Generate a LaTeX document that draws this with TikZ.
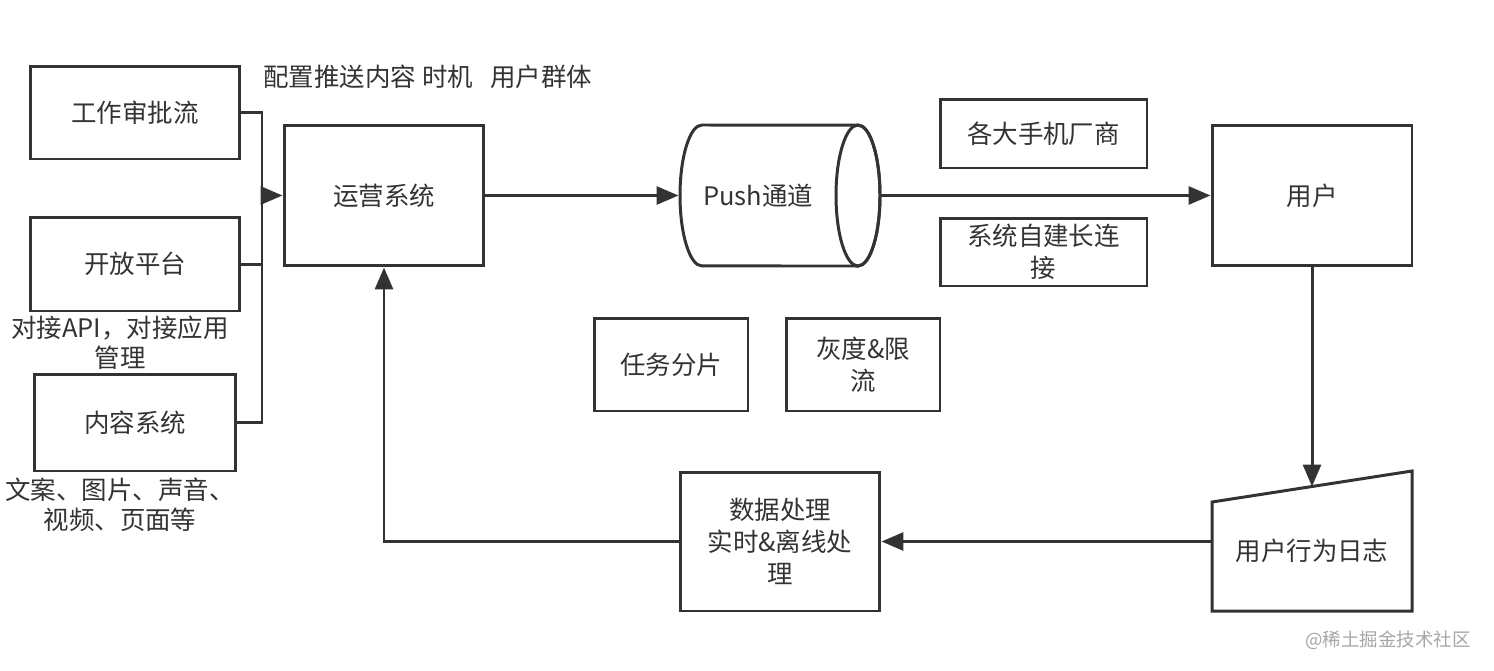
\documentclass[tikz,border=0pt]{standalone}
\usepackage{fontspec}
\setmainfont{Noto Sans CJK SC}
\usepackage{xcolor}
\usetikzlibrary{arrows.meta}
\definecolor{ink}{HTML}{333333}

\begin{document}
\begin{tikzpicture}[x=0.02cm, y=-0.02cm, line width=1.7pt,
  box/.style={draw=ink, rectangle, inner sep=0pt, text=ink, align=center,
    font=\fontsize{14.5}{18}\selectfont},
  note/.style={text=ink, align=center, inner sep=0pt, font=\fontsize{14.5}{17}\selectfont},
  link/.style={draw=ink, line width=1.7pt},
  flow/.style={link, -{Triangle[length=0.44cm, width=0.36cm]}},
  rim/.style={x radius=0.44cm, y radius=1.41cm}]
  \useasboundingbox (0,0) rectangle (1494,670);
  % sources on the left
  \node[box, minimum width=4.2cm, minimum height=1.86cm] (approve) at (135,112.5) {工作审批流};
  \node[box, minimum width=4.2cm, minimum height=1.88cm] (openapi) at (135,264) {开放平台};
  \node[box, minimum width=4.04cm, minimum height=1.94cm] (content) at (135,422.5) {内容系统};
  \node[note] (apinote) at (120,343) {对接API，对接应用\\管理};
  \node[note] (contentnote) at (120,505) {文案、图片、声音、\\视频、页面等};
  % main line
  \node[box, minimum width=4cm, minimum height=2.82cm] (ops) at (384,195.5) {运营系统};
  \node[note, anchor=west] (opsnote) at (262,77) {配置推送内容 时机~~~用户群体};
  % push channel drawn as a lying cylinder
  \draw[link] (702,125) arc[start angle=90, end angle=270, rim] -- (858,266)
    arc[start angle=-90, end angle=90, rim] -- cycle;
  \draw[link] (858,195.5) ellipse[rim];
  \node[box, draw=none, minimum width=3.12cm, minimum height=2.82cm] (push) at (758,195.5) {Push通道};
  \coordinate (pushout) at (880,195.5);
  \node[box, minimum width=4.14cm, minimum height=1.38cm] (vendor) at (1043.5,133.5) {各大手机厂商};
  \node[box, minimum width=4.14cm, minimum height=1.36cm] (selflink) at (1043.5,252) {系统自建长连\\接};
  \node[box, minimum width=4cm, minimum height=2.82cm] (user) at (1312,195.5) {用户};
  \node[box, minimum width=3.08cm, minimum height=1.86cm] (shard) at (671,364.5) {任务分片};
  \node[box, minimum width=3.08cm, minimum height=1.86cm] (gray) at (863,364.5) {灰度\&限\\流};
  \node[box, minimum width=4cm, minimum height=2.78cm] (proc) at (780,541.5) {数据处理\\实时\&离线处\\理};
  % user log, slanted top
  \draw[link] (1212,502) -- (1412,471) -- (1412,611) -- (1212,611) -- cycle;
  \node[note] (log) at (1312,551) {用户行为日志};
  \coordinate (logtop) at (1312,486.5);
  \coordinate (logleft) at (1212,541.5);
  \coordinate (bus) at (262,195.5);
  % connectors
  \draw[link] (approve.east) -| (bus);
  \draw[link] (openapi.east) -| (bus);
  \draw[link] (content.east) -| (bus);
  \draw[flow] (bus) -- (ops.west);
  \draw[flow] (ops.east) -- (push.west);
  \draw[flow] (pushout) -- (user.west);
  \draw[flow] (user.south) -- (logtop);
  \draw[flow] (logleft) -- (proc.east);
  \draw[flow] (proc.west) -| (ops.south);
  \node[text=black!35, font=\fontsize{10.5}{12}\selectfont] (mark) at (1388,640) {@稀土掘金技术社区};
\end{tikzpicture}
\end{document}
